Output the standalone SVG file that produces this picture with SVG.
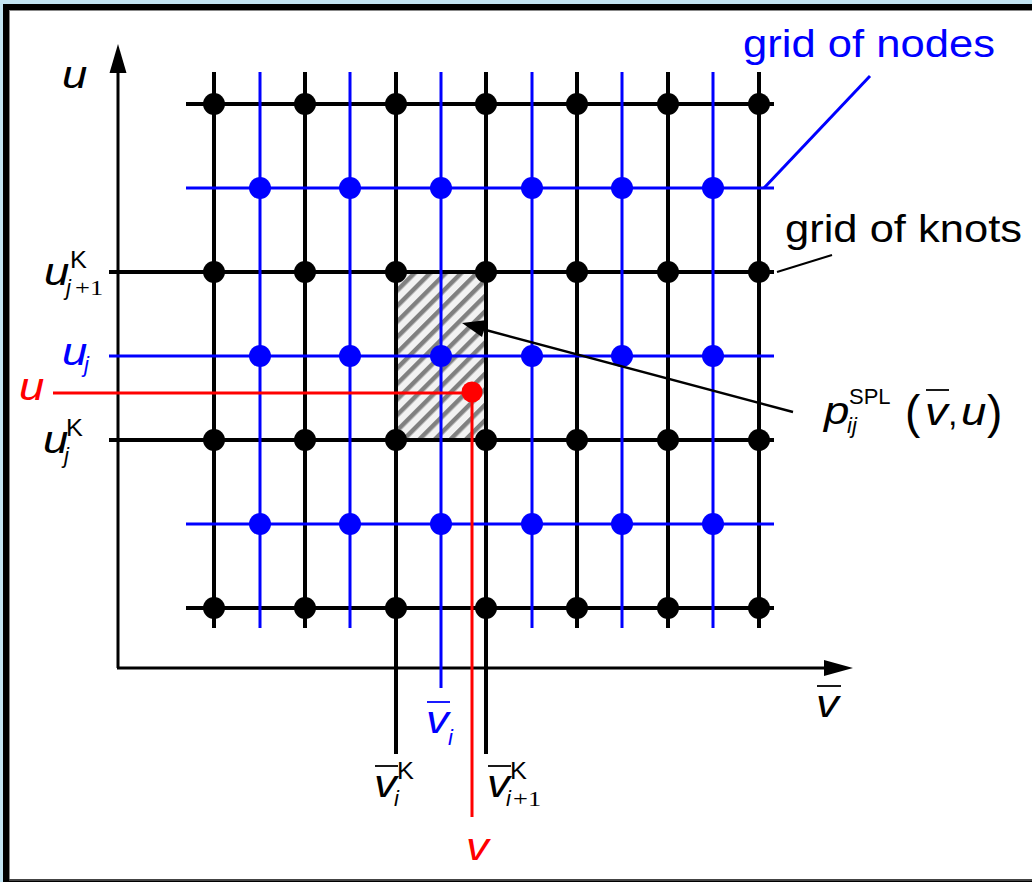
<svg xmlns="http://www.w3.org/2000/svg" width="1032" height="882" viewBox="0 0 1032 882">
<style>
.bk{stroke:#000;stroke-width:4;fill:none}
.bl{stroke:#0000ff;stroke-width:3;fill:none}
.rd{stroke:#ff0000;stroke-width:3;fill:none}
.ax{stroke:#000;stroke-width:3;fill:none}
.knot{fill:#000}
.node{fill:#0000ff}
.m{font-family:"Liberation Sans",Arial,sans-serif;font-style:italic;font-size:38px}
.sm{font-family:"Liberation Sans",Arial,sans-serif;font-style:italic;font-size:22px}
.up{font-family:"Liberation Sans",Arial,sans-serif;font-size:23px}
.sr{font-family:"Liberation Serif","Times New Roman",serif;font-size:22px}
.lbl{font-family:"Liberation Sans",Arial,sans-serif;font-size:38px}
.ob{stroke-width:1.8}
</style>
<defs>
<pattern id="hatch" width="11" height="11" patternUnits="userSpaceOnUse" patternTransform="rotate(45)">
<rect width="11" height="11" fill="#f2f2f2"/>
<rect width="4.5" height="11" fill="#808080"/>
</pattern>
</defs>
<rect width="1032" height="882" fill="#c3e5f3"/>
<rect x="3" y="4" width="1040" height="880" fill="#000"/>
<rect x="9.5" y="10.5" width="1035" height="869" fill="#fff" stroke="#888" stroke-width="1"/>
<line x1="9" y1="880" x2="1032" y2="880" stroke="#444" stroke-width="2"/>

<g id="cell">
<rect x="396" y="272" width="90" height="168" fill="url(#hatch)"/>
</g>

<g id="axes">
<line class="ax" x1="118" y1="668" x2="118" y2="70"/>
<polygon points="118,44 109.5,73 126.5,73" fill="#000"/>
<line class="ax" x1="117" y1="668" x2="826" y2="668"/>
<polygon points="853,668 824,660 824,676" fill="#000"/>
</g>

<g id="knot-lines">
<line class="bk" x1="214" y1="72" x2="214" y2="628"/>
<line class="bk" x1="305" y1="72" x2="305" y2="628"/>
<line class="bk" x1="396" y1="72" x2="396" y2="754"/>
<line class="bk" x1="486" y1="72" x2="486" y2="754"/>
<line class="bk" x1="577" y1="72" x2="577" y2="628"/>
<line class="bk" x1="668" y1="72" x2="668" y2="628"/>
<line class="bk" x1="759" y1="72" x2="759" y2="628"/>
<line class="bk" x1="186" y1="104" x2="774" y2="104"/>
<line class="bk" x1="109" y1="272" x2="774" y2="272"/>
<line class="bk" x1="109" y1="440" x2="774" y2="440"/>
<line class="bk" x1="186" y1="608" x2="774" y2="608"/>
</g>

<g id="node-lines">
<line class="bl" x1="260" y1="72" x2="260" y2="628"/>
<line class="bl" x1="350" y1="72" x2="350" y2="628"/>
<line class="bl" x1="441" y1="72" x2="441" y2="688"/>
<line class="bl" x1="532" y1="72" x2="532" y2="628"/>
<line class="bl" x1="622" y1="72" x2="622" y2="628"/>
<line class="bl" x1="713" y1="72" x2="713" y2="628"/>
<line class="bl" x1="186" y1="188" x2="774" y2="188"/>
<line class="bl" x1="109" y1="356" x2="774" y2="356"/>
<line class="bl" x1="186" y1="524" x2="774" y2="524"/>
</g>

<g id="knots">
<circle class="knot" cx="214" cy="104" r="11"/><circle class="knot" cx="305" cy="104" r="11"/><circle class="knot" cx="396" cy="104" r="11"/><circle class="knot" cx="486" cy="104" r="11"/><circle class="knot" cx="577" cy="104" r="11"/><circle class="knot" cx="668" cy="104" r="11"/><circle class="knot" cx="759" cy="104" r="11"/>
<circle class="knot" cx="214" cy="272" r="11"/><circle class="knot" cx="305" cy="272" r="11"/><circle class="knot" cx="396" cy="272" r="11"/><circle class="knot" cx="486" cy="272" r="11"/><circle class="knot" cx="577" cy="272" r="11"/><circle class="knot" cx="668" cy="272" r="11"/><circle class="knot" cx="759" cy="272" r="11"/>
<circle class="knot" cx="214" cy="440" r="11"/><circle class="knot" cx="305" cy="440" r="11"/><circle class="knot" cx="396" cy="440" r="11"/><circle class="knot" cx="486" cy="440" r="11"/><circle class="knot" cx="577" cy="440" r="11"/><circle class="knot" cx="668" cy="440" r="11"/><circle class="knot" cx="759" cy="440" r="11"/>
<circle class="knot" cx="214" cy="608" r="11"/><circle class="knot" cx="305" cy="608" r="11"/><circle class="knot" cx="396" cy="608" r="11"/><circle class="knot" cx="486" cy="608" r="11"/><circle class="knot" cx="577" cy="608" r="11"/><circle class="knot" cx="668" cy="608" r="11"/><circle class="knot" cx="759" cy="608" r="11"/>
</g>

<g id="nodes">
<circle class="node" cx="260" cy="188" r="11"/><circle class="node" cx="350" cy="188" r="11"/><circle class="node" cx="441" cy="188" r="11"/><circle class="node" cx="532" cy="188" r="11"/><circle class="node" cx="622" cy="188" r="11"/><circle class="node" cx="713" cy="188" r="11"/>
<circle class="node" cx="260" cy="356" r="11"/><circle class="node" cx="350" cy="356" r="11"/><circle class="node" cx="441" cy="356" r="11"/><circle class="node" cx="532" cy="356" r="11"/><circle class="node" cx="622" cy="356" r="11"/><circle class="node" cx="713" cy="356" r="11"/>
<circle class="node" cx="260" cy="524" r="11"/><circle class="node" cx="350" cy="524" r="11"/><circle class="node" cx="441" cy="524" r="11"/><circle class="node" cx="532" cy="524" r="11"/><circle class="node" cx="622" cy="524" r="11"/><circle class="node" cx="713" cy="524" r="11"/>
</g>

<g id="point">
<line class="rd" x1="53" y1="393" x2="472" y2="393"/>
<line class="rd" x1="472" y1="393" x2="472" y2="817"/>
<circle cx="472" cy="392" r="10.5" fill="#ff0000"/>
</g>

<g id="connectors">
<line x1="870" y1="76" x2="764" y2="188" stroke="#0000ff" stroke-width="3"/>
<line x1="832" y1="255" x2="777" y2="272" stroke="#000" stroke-width="2"/>
<line x1="793" y1="412" x2="482" y2="329" stroke="#000" stroke-width="2.5"/>
<polygon points="462,323 487,320 482,337" fill="#000"/>
</g>

<g id="label-grid-nodes">
<text class="lbl" x="743" y="57" fill="#0000ff" textLength="252" lengthAdjust="spacingAndGlyphs">grid of nodes</text>
</g>
<g id="label-grid-knots">
<text class="lbl" x="785" y="242" fill="#000" textLength="237" lengthAdjust="spacingAndGlyphs">grid of knots</text>
</g>

<g id="label-axis-u">
<text class="m" transform="translate(62,88) scale(1.2,1)">u</text>
</g>
<g id="label-axis-v">
<text class="m" transform="translate(816,717) scale(1.2,1)">v</text>
<line class="ob" x1="817" y1="686" x2="841" y2="686" stroke="#000"/>
</g>

<g id="label-uK-j1">
<text class="m" transform="translate(44,285) scale(1.2,1)">u</text>
<text class="up" transform="translate(70,268) scale(1.1,1)">K</text>
<text class="sm" transform="translate(66,295)">j</text>
<text class="sr" transform="translate(75,295) scale(1.2,1)">+1</text>
</g>
<g id="label-uj" fill="#0000ff">
<text class="m" transform="translate(62,365) scale(1.2,1)">u</text>
<text class="sm" transform="translate(84,372)">j</text>
</g>
<g id="label-u-red" fill="#ff0000">
<text class="m" transform="translate(19,400) scale(1.2,1)">u</text>
</g>
<g id="label-uK-j">
<text class="m" transform="translate(43,453) scale(1.2,1)">u</text>
<text class="up" transform="translate(66,436) scale(1.1,1)">K</text>
<text class="sm" transform="translate(64,463)">j</text>
</g>

<g id="label-vK-i">
<text class="m" transform="translate(374,797) scale(1.2,1)">v</text>
<line class="ob" x1="375" y1="766" x2="398" y2="766" stroke="#000"/>
<text class="up" transform="translate(397,779) scale(1.1,1)">K</text>
<text class="sm" transform="translate(394,806)">i</text>
</g>
<g id="label-vK-i1">
<text class="m" transform="translate(487,797) scale(1.2,1)">v</text>
<line class="ob" x1="488" y1="766" x2="511" y2="766" stroke="#000"/>
<text class="up" transform="translate(510,779) scale(1.1,1)">K</text>
<text class="sm" transform="translate(506,806)">i</text>
<text class="sr" transform="translate(513,806) scale(1.2,1)">+1</text>
</g>
<g id="label-vi" fill="#0000ff">
<text class="m" transform="translate(426,733) scale(1.2,1)">v</text>
<line class="ob" x1="427" y1="702" x2="450" y2="702" stroke="#0000ff"/>
<text class="sm" transform="translate(448,745)">i</text>
</g>
<g id="label-v-red" fill="#ff0000">
<text class="m" transform="translate(466,860) scale(1.2,1)">v</text>
</g>

<g id="label-pSPL">
<text class="m" transform="translate(824,424) scale(1.2,1)">p</text>
<text class="up" transform="translate(849,404)" style="font-size:22px">SPL</text>
<text class="sm" transform="translate(847,433)">ij</text>
<text class="up" transform="translate(905,428)" style="font-size:46px">(</text>
<text class="m" transform="translate(925,425) scale(1.2,1)">v</text>
<line class="ob" x1="926" y1="390" x2="949" y2="390" stroke="#000"/>
<text class="up" transform="translate(948,425)" style="font-size:34px">,</text>
<text class="m" transform="translate(961,425) scale(1.2,1)">u</text>
<text class="up" transform="translate(987,428)" style="font-size:46px">)</text>
</g>
</svg>
